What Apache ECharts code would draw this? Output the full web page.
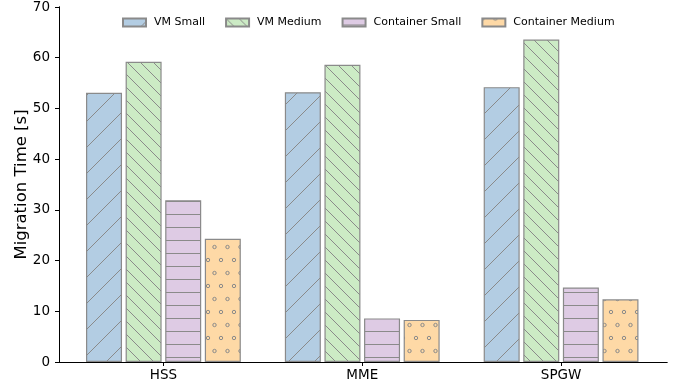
<!DOCTYPE html>
<html>
<head>
<meta charset="utf-8">
<script src="https://cdn.jsdelivr.net/npm/echarts@6/dist/echarts.min.js"></script>
<style>
  html, body { margin: 0; padding: 0; background: #fff; }
  #chart { width: 678px; height: 389px; }
</style>
</head>
<body>
<div id="chart"></div>
<script>
// Network functions and their measured migration times (seconds)
const categories = ['HSS', 'MME', 'SPGW'];
const seriesNames = ['VM Small', 'VM Medium', 'Container Small', 'Container Medium'];
const vmSmall = [53.1, 53.2, 54.2];
const vmMedium = [59.2, 58.6, 63.6];
const containerSmall = [31.9, 8.6, 14.7];
const containerMedium = [24.3, 8.3, 12.35];
const yTicks = [0, 10, 20, 30, 40, 50, 60, 70];

const fills = ['#b3cde3', '#ccebc5', '#decbe4', '#fed9a6'];
const hatches = ['/', '\\\\', '-', 'o'];
const edge = '#8a8a8a';

// Builds a repeating hatch tile on a small canvas
function hatchPattern(fill, kind) {
  const c = document.createElement('canvas');
  let w = 13, h = 13;
  if (kind === '/') { w = 26; h = 26; }
  if (kind === 'o') { w = 13; h = 26; }
  c.width = w; c.height = h;
  const ctx = c.getContext('2d');
  ctx.fillStyle = fill;
  ctx.fillRect(0, 0, w, h);
  ctx.strokeStyle = edge;
  ctx.lineWidth = 1;
  ctx.beginPath();
  if (kind === '/') {
    for (let k = -1; k <= 1; k++) { ctx.moveTo(k * w, h); ctx.lineTo(k * w + w, 0); }
    ctx.stroke();
  } else if (kind === '\\\\') {
    for (let k = -1; k <= 1; k++) { ctx.moveTo(k * w, 0); ctx.lineTo(k * w + w, h); }
    ctx.stroke();
  } else if (kind === '-') {
    ctx.moveTo(0, 6.5); ctx.lineTo(w, 6.5);
    ctx.stroke();
  } else if (kind === 'o') {
    ctx.lineWidth = 1;
    const pts = [[0, 0], [w, 0], [0, h], [w, h], [w / 2, h / 2]];
    pts.forEach(p => {
      ctx.beginPath();
      ctx.arc(p[0], p[1], 1.7, 0, Math.PI * 2);
      ctx.stroke();
    });
  }
  return { image: c, repeat: 'repeat' };
}

const values = [vmSmall, vmMedium, containerSmall, containerMedium];
const font = 'DejaVu Sans';

const chart = echarts.init(document.getElementById('chart'), null, { renderer: 'canvas' });

const option = {
  animation: false,
  textStyle: { fontFamily: font },
  legend: {
    top: 12,
    left: 117,
    itemWidth: 23,
    itemHeight: 8,
    itemGap: 20,
    icon: 'rect',
    textStyle: { fontFamily: font, fontSize: 11, color: '#000', padding: [0, 0, 0, 3] },
    data: seriesNames
  },
  grid: [
    { left: 59, right: 11, top: 7, bottom: 27, containLabel: false },
    { left: 64, right: 17.5, top: 7, bottom: 27, containLabel: false }
  ],
  xAxis: [
    { gridIndex: 0, type: 'value', min: 0, max: 1, position: 'bottom',
      axisLine: { show: true, lineStyle: { color: '#000', width: 1 } },
      axisTick: { show: false }, axisLabel: { show: false }, splitLine: { show: false } },
    { gridIndex: 0, type: 'value', min: 0, max: 1, position: 'top',
      axisLine: { show: true, lineStyle: { color: '#000', width: 1 } },
      axisTick: { show: false }, axisLabel: { show: false }, splitLine: { show: false } },
    { gridIndex: 1, type: 'category', data: categories, position: 'bottom',
      axisLine: { show: false },
      axisTick: { show: true, alignWithLabel: true, length: 4, lineStyle: { color: '#000', width: 1 } },
      axisLabel: { fontFamily: font, fontSize: 13.5, color: '#000', margin: 6 },
      splitLine: { show: false } }
  ],
  yAxis: [
    { gridIndex: 0, type: 'value', min: 0, max: 70, interval: 10, position: 'left',
      name: 'Migration Time [s]', nameLocation: 'middle', nameGap: 29,
      nameMoveOverlap: false,
      nameTextStyle: { fontFamily: font, fontSize: 16.5, color: '#000' },
      axisLine: { show: true, lineStyle: { color: '#000', width: 1 } },
      axisTick: { show: true, length: 4, lineStyle: { color: '#000', width: 1 } },
      axisLabel: { fontFamily: font, fontSize: 13.5, color: '#000', margin: 9,
        formatter: v => (yTicks.indexOf(v) >= 0 ? String(v) : '') },
      splitLine: { show: false } },
    { gridIndex: 0, type: 'value', min: 0, max: 70, position: 'right',
      axisLine: { show: true, lineStyle: { color: '#000', width: 1 } },
      axisTick: { show: false }, axisLabel: { show: false }, splitLine: { show: false } },
    { gridIndex: 1, type: 'value', min: 0, max: 70, show: false }
  ],
  series: seriesNames.map((name, i) => ({
    name: name,
    type: 'bar',
    xAxisIndex: 2,
    yAxisIndex: 2,
    barWidth: 36,
    barGap: '10%',
    data: values[i],
    itemStyle: {
      color: hatchPattern(fills[i], hatches[i]),
      borderColor: edge,
      borderWidth: 1.2
    }
  }))
};

chart.setOption(option);
</script>
</body>
</html>
